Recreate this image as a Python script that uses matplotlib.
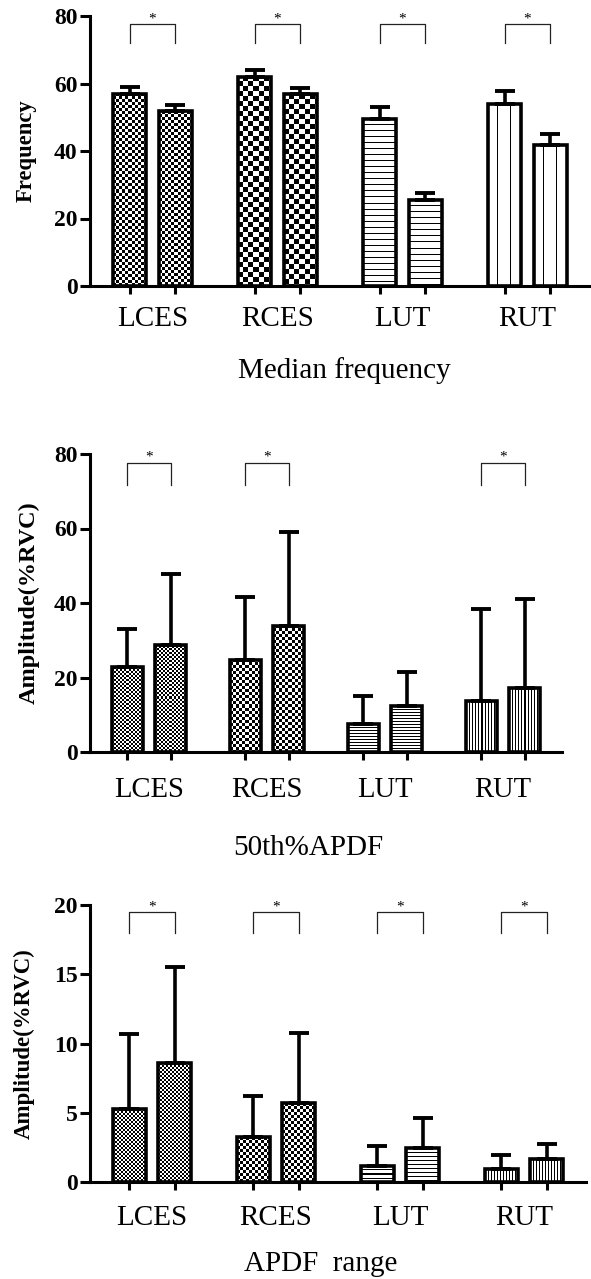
import numpy as np
import matplotlib
matplotlib.use('Agg')
import matplotlib.pyplot as plt
from matplotlib import transforms

plt.rcParams['font.family'] = ['Liberation Serif', 'DejaVu Serif']

# ---------------- data ----------------
categories = ['LCES', 'RCES', 'LUT', 'RUT']

mf_mean_a = [57.0, 62.0, 49.5, 54.0]
mf_sd_a = [2.0, 2.0, 3.5, 3.8]
mf_mean_b = [51.8, 56.8, 25.6, 41.7]
mf_sd_b = [1.9, 2.0, 1.9, 3.3]
mf_sig = [True, True, True, True]

apdf50_mean_a = [22.7, 24.8, 7.4, 13.8]
apdf50_sd_a = [10.3, 16.7, 7.7, 24.6]
apdf50_mean_b = [28.8, 33.9, 12.3, 17.1]
apdf50_sd_b = [18.9, 25.1, 9.2, 24.1]
apdf50_sig = [True, True, False, True]

range_mean_a = [5.26, 3.22, 1.18, 0.94]
range_sd_a = [5.41, 3.01, 1.44, 1.03]
range_mean_b = [8.58, 5.70, 2.45, 1.68]
range_sd_b = [6.97, 5.05, 2.14, 1.08]
range_sig = [True, True, True, True]

# ---------------- figure ----------------
W, H = 591, 1279
DPI = 100
fig = plt.figure(figsize=(W / DPI, H / DPI), dpi=DPI)


def texture(kind, period, phase, w, h):
    i, j = np.mgrid[0:h, 0:w]
    if kind == 'checker':
        return ((i // period + j // period) % 2).astype(float)
    if kind == 'h':
        return ((i - phase) % period == 0).astype(float)
    return ((j - phase) % period == 0).astype(float)


def panel(box, means_a, sds_a, means_b, sds_b, sig, ymax, yticks,
          textures, ylabel, ylab_x, ylab_size, xlabel, xlab_x, xlab_base,
          xlab_size, tick_base, tick_size, br_top, br_bot):
    left, right, top, bottom = box
    ax = fig.add_axes([left / W, 1 - bottom / H, (right - left) / W,
                       (bottom - top) / H])
    ax.set_xlim(-0.5, 3.5)
    ax.set_ylim(0, ymax)
    off = 0.183
    bw = 0.265
    xc = np.arange(len(categories))
    xa = xc - off
    xb = xc + off

    for xs, ms, sds in ((xa, means_a, sds_a), (xb, means_b, sds_b)):
        bars = ax.bar(xs, ms, width=bw, facecolor='none', edgecolor='black',
                      linewidth=2.6, zorder=3)
        ax.errorbar(xs, ms, yerr=[np.zeros(len(ms)), sds], fmt='none',
                    ecolor='black', elinewidth=2.6, capsize=7,
                    capthick=2.8, zorder=2.5)
        for k, rect in enumerate(bars):
            x0 = rect.get_x()
            x1 = x0 + rect.get_width()
            h = rect.get_height()
            p0 = ax.transData.transform((x0, 0))
            p1 = ax.transData.transform((x1, h))
            wpx = max(1, int(round(p1[0] - p0[0])))
            hpx = max(1, int(round(p1[1] - p0[1])))
            kind, per, ph = textures[k]
            arr = texture(kind, per, ph, wpx, hpx)
            im = ax.imshow(arr, cmap='gray_r', vmin=0, vmax=1,
                           extent=(x0, x1, 0, h), origin='upper',
                           interpolation='nearest', aspect='auto', zorder=2)
            im.set_clip_path(rect)

    ax.set_xlim(-0.5, 3.5)
    ax.set_ylim(0, ymax)

    # significance brackets
    for k, s in enumerate(sig):
        if not s:
            continue
        ax.plot([xa[k], xa[k], xb[k], xb[k]], [br_bot, br_top, br_top, br_bot],
                color='#222222', lw=0.9, clip_on=False, zorder=4)
        ax.annotate('*', xy=(xc[k], br_top), xytext=(0, 1.5),
                    textcoords='offset points', ha='center', va='baseline',
                    fontsize=11, annotation_clip=False)

    for sp in ('top', 'right'):
        ax.spines[sp].set_visible(False)
    for sp in ('left', 'bottom'):
        ax.spines[sp].set_linewidth(2.2)

    ax.set_xticks(np.sort(np.concatenate([xa, xb])))
    ax.set_xticklabels([])
    ax.tick_params(axis='x', direction='out', length=6, width=2.2)
    ax.set_yticks(yticks)
    ax.set_yticklabels([str(t) for t in yticks], fontweight='bold',
                       fontsize=17)
    ax.tick_params(axis='y', direction='out', length=7, width=2.2, pad=2)

    tr = transforms.blended_transform_factory(ax.transData, fig.transFigure)
    for k, c in enumerate(categories):
        ax.text(xc[k], 1 - tick_base / H, c, transform=tr, ha='center',
                va='baseline', fontsize=tick_size)

    fig.text(ylab_x / W, 1 - (top + bottom) / 2 / H, ylabel, rotation=90,
             ha='center', va='center', fontweight='bold', fontsize=ylab_size)
    fig.text(xlab_x / W, 1 - xlab_base / H, xlabel, ha='center',
             va='baseline', fontsize=xlab_size)
    return ax


panel((90, 590, 16, 286), mf_mean_a, mf_sd_a, mf_mean_b, mf_sd_b, mf_sig,
      80, [0, 20, 40, 60, 80],
      [('checker', 3, 0), ('checker', 5, 0), ('h', 6, 0), ('v', 12, 9)],
      'Frequency', 26, 16.3, 'Median frequency', 344, 378, 21,
      326.5, 21, 77.5, 72.0)

panel((90, 562, 454, 752), apdf50_mean_a, apdf50_sd_a, apdf50_mean_b,
      apdf50_sd_b, apdf50_sig, 80, [0, 20, 40, 60, 80],
      [('checker', 2, 0), ('checker', 3, 0), ('h', 3, 0), ('v', 3, 0)],
      'Amplitude(%RVC)', 29, 17.5, '50th%APDF', 308, 855, 21,
      797, 20.6, 77.7, 71.8)

panel((90, 586, 905, 1182), range_mean_a, range_sd_a, range_mean_b,
      range_sd_b, range_sig, 20, [0, 5, 10, 15, 20],
      [('checker', 2, 0), ('checker', 3, 0), ('h', 4, 0), ('v', 3, 0)],
      'Amplitude(%RVC)', 24.5, 16.5, 'APDF  range', 321, 1271, 21,
      1225, 21, 19.47, 17.96)

fig.savefig('out.png', dpi=DPI)
